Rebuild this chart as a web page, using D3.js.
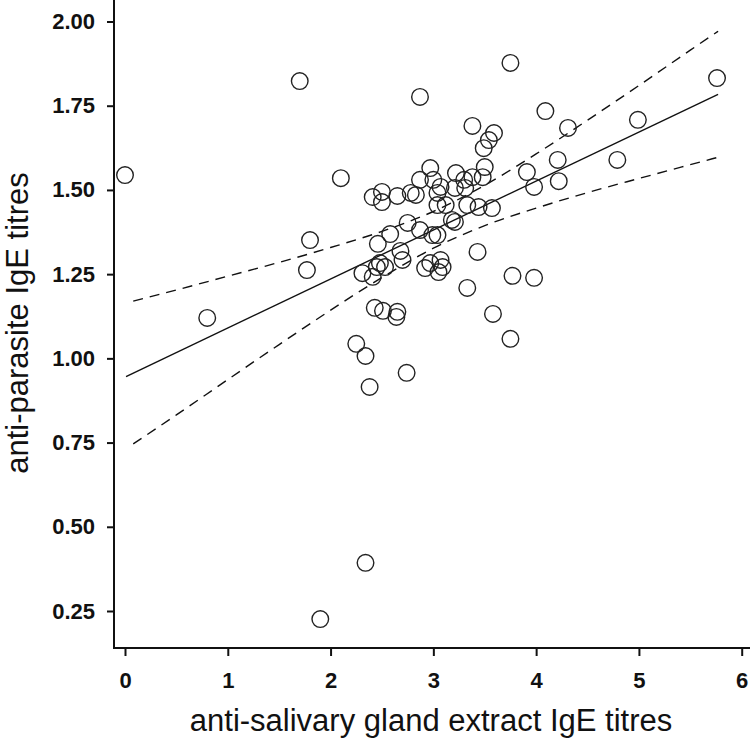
<!DOCTYPE html>
<html>
<head>
<meta charset="utf-8">
<script src="https://cdn.jsdelivr.net/npm/d3@7"></script>
<style>
  html, body { margin: 0; padding: 0; background: #fff; }
  svg { display: block; }
</style>
</head>
<body>
<svg id="chart" width="750" height="739"></svg>
<script>
// ---- data ----
const xValues = [0.00, 0.80, 1.70, 1.80, 1.77, 1.90, 2.10, 2.25, 2.34, 2.38, 2.34, 2.74, 2.87, 3.75, 5.76, 4.99, 4.09, 4.31, 4.79, 3.38,
  3.59, 3.54, 3.49, 3.91, 3.98, 4.21, 4.22, 3.77, 3.98, 3.33, 3.58, 3.75, 3.43, 2.97, 2.87, 3.00, 3.22, 3.30, 3.38, 3.48,
  3.50, 2.41, 2.50, 2.50, 2.65, 2.78, 2.83, 3.07, 3.04, 3.04, 3.12, 3.21, 3.31, 3.33, 3.44, 3.57, 3.18, 3.21, 2.75, 2.87,
  2.99, 3.04, 2.58, 2.46, 2.68, 2.70, 2.48, 2.53, 2.45, 2.41, 2.31, 2.92, 2.97, 3.07, 3.09, 3.05, 2.43, 2.51, 2.65, 2.64];
const yValues = [1.544, 1.120, 1.823, 1.351, 1.262, 0.226, 1.535, 1.043, 1.007, 0.915, 0.393, 0.957, 1.776, 1.877, 1.832, 1.708, 1.734, 1.684, 1.589, 1.690,
  1.669, 1.648, 1.624, 1.553, 1.509, 1.589, 1.526, 1.245, 1.239, 1.209, 1.132, 1.058, 1.316, 1.565, 1.530, 1.530, 1.550, 1.530, 1.538, 1.538,
  1.568, 1.479, 1.494, 1.464, 1.482, 1.491, 1.485, 1.509, 1.491, 1.455, 1.455, 1.506, 1.506, 1.455, 1.449, 1.446, 1.411, 1.405, 1.402, 1.381,
  1.366, 1.366, 1.369, 1.340, 1.319, 1.292, 1.283, 1.271, 1.271, 1.242, 1.253, 1.268, 1.283, 1.292, 1.271, 1.256, 1.150, 1.141, 1.138, 1.123];

// regression line (read end points)
const fitX = [0.01, 5.77];
const fitY = [0.946, 1.784];

// confidence bands
const bandX     = [0.08, 0.5, 1.0, 1.5, 2.0, 2.5, 3.0, 3.5, 4.0, 4.5, 5.0, 5.5, 5.77];
const bandUpper = [1.170, 1.203, 1.244, 1.285, 1.329, 1.377, 1.436, 1.514, 1.607, 1.707, 1.810, 1.915, 1.971];
const bandLower = [0.746, 0.832, 0.937, 1.041, 1.143, 1.240, 1.327, 1.394, 1.446, 1.492, 1.534, 1.575, 1.597];

const xTicks = [0, 1, 2, 3, 4, 5, 6];
const yTicks = [0.25, 0.50, 0.75, 1.00, 1.25, 1.50, 1.75, 2.00];

const xTitle = "anti-salivary gland extract IgE titres";
const yTitle = "anti-parasite IgE titres";

// ---- drawing ----
const svg = d3.select("#chart");
const ink = "#111";
const font = "'Liberation Sans', Arial, Helvetica, sans-serif";

const axisX = 114, axisY = 648;

const x = d3.scaleLinear().domain([0, 6]).range([125, 741.7]);
const y = d3.scaleLinear().domain([0.25, 2.0]).range([611, 21.5]);

// axis lines
svg.append("line").attr("x1", axisX).attr("x2", axisX).attr("y1", 0).attr("y2", axisY)
  .attr("stroke", ink).attr("stroke-width", 2);
svg.append("line").attr("x1", axisX - 1).attr("x2", 750).attr("y1", axisY).attr("y2", axisY)
  .attr("stroke", ink).attr("stroke-width", 2);

const gy = svg.append("g").attr("transform", `translate(${axisX},0)`)
  .call(d3.axisLeft(y).tickValues(yTicks).tickFormat(d3.format(".2f")).tickSize(7).tickSizeOuter(0).tickPadding(12));
gy.select(".domain").remove();

const gx = svg.append("g").attr("transform", `translate(0,${axisY})`)
  .call(d3.axisBottom(x).tickValues(xTicks).tickFormat(d3.format("d")).tickSize(8).tickSizeOuter(0).tickPadding(16));
gx.select(".domain").remove();

[gx, gy].forEach(g => {
  g.selectAll("line").attr("stroke", ink).attr("stroke-width", 2);
  g.selectAll("text").attr("fill", ink).style("font-family", font)
    .style("font-size", "22px").style("font-weight", "bold");
});

// bands
const line = d3.line().x(d => x(d[0])).y(d => y(d[1]));
[bandUpper, bandLower].forEach(b => {
  svg.append("path")
    .attr("d", line.curve(d3.curveMonotoneX)(bandX.map((v, i) => [v, b[i]])))
    .attr("fill", "none").attr("stroke", ink).attr("stroke-width", 1.4)
    .attr("stroke-dasharray", "10,7");
});

// fit line
svg.append("path")
  .attr("d", d3.line().x(d => x(d[0])).y(d => y(d[1]))(fitX.map((v, i) => [v, fitY[i]])))
  .attr("fill", "none").attr("stroke", ink).attr("stroke-width", 1.4);

// points
svg.append("g").selectAll("circle")
  .data(xValues.map((v, i) => [v, yValues[i]]))
  .join("circle")
  .attr("cx", d => x(d[0])).attr("cy", d => y(d[1])).attr("r", 8.3)
  .attr("fill", "none").attr("stroke", "#222").attr("stroke-width", 1.4);

// titles
svg.append("text").attr("x", 431).attr("y", 731).attr("text-anchor", "middle")
  .style("font-family", font).style("font-size", "31px").attr("fill", ink).text(xTitle);
svg.append("text").attr("transform", "translate(28,323) rotate(-90)").attr("text-anchor", "middle")
  .style("font-family", font).style("font-size", "31px").attr("fill", ink).text(yTitle);
</script>
</body>
</html>
